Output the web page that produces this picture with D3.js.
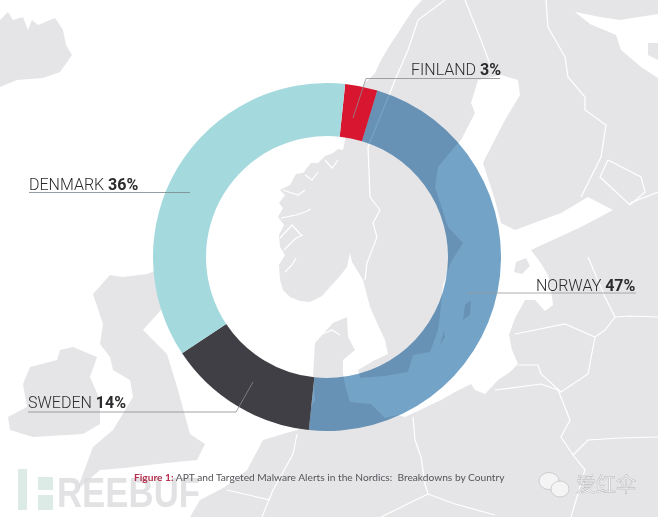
<!DOCTYPE html>
<html>
<head>
<meta charset="utf-8">
<script src="https://cdn.jsdelivr.net/npm/d3@7"></script>
<style>
html, body { margin: 0; padding: 0; background: #fff; }
svg { display: block; }
</style>
</head>
<body>
<div id="chart"></div>
<script>
// chart data
var countries = ["FINLAND", "NORWAY", "SWEDEN", "DENMARK"];
var alertShares = [3, 47, 14, 36];
var sliceColors = ["#d8162f", "#74a3c8", "#3f3f45", "#a4d9de"];
var captionLead = "Figure 1:";
var captionText = " APT and Targeted Malware Alerts in the Nordics:  Breakdowns by Country";

// background map outlines, in picture pixels
var mainland = [[422,0],[413,10],[405,22],[398,33],[390,45],[381,60],[375,73],[365,83],[350,120],[345,140],[343,150],[338,149],[333,153],[325,156],[318,163],[311,163],[303,173],[296,174],[290,185],[280,190],[285,195],[279,203],[283,208],[278,217],[284,225],[279,235],[280,247],[285,255],[279,265],[280,280],[283,290],[290,297],[300,301],[310,302],[322,296],[330,287],[340,276],[347,267],[350,253],[352,262],[357,270],[363,280],[370,307],[378,325],[385,340],[388,354],[375,360],[358,370],[360,378],[385,376],[408,372],[413,355],[430,352],[438,330],[440,315],[443,285],[451,262],[463,243],[448,227],[435,187],[438,167],[458,143],[461,140],[475,113],[471,103],[478,80],[501,75],[518,80],[520,95],[505,120],[491,147],[483,163],[495,200],[501,223],[515,230],[561,213],[588,197],[613,210],[581,227],[531,250],[540,262],[548,275],[551,290],[553,305],[545,311],[535,300],[525,300],[515,318],[509,335],[512,350],[518,364],[510,372],[498,380],[485,394],[475,390],[471,384],[455,392],[441,400],[405,417],[398,415],[385,418],[371,404],[350,402],[345,385],[343,373],[343,360],[355,350],[348,337],[347,317],[333,323],[315,343],[313,377],[315,400],[298,430],[290,432],[263,440],[247,470],[225,487],[200,500],[190,517],[658,517],[658,0]];
var iceland = [[0,20],[8,12],[13,20],[23,17],[28,30],[32,20],[38,25],[55,18],[63,30],[66,45],[72,55],[60,72],[43,78],[17,80],[0,87]];
var britain = [[93,294],[110,275],[123,277],[147,274],[157,270],[170,300],[143,330],[167,354],[178,390],[190,434],[205,444],[197,460],[157,464],[125,468],[100,470],[77,490],[93,447],[113,430],[133,397],[130,380],[113,370],[110,357],[100,344],[103,324]];
var ireland = [[8,417],[27,407],[23,384],[30,367],[57,360],[60,350],[73,347],[97,357],[90,377],[100,400],[100,424],[83,434],[33,437],[10,430]];
var balticIslands = [[[516,262],[526,258],[530,266],[522,274],[514,272]], [[463,320],[465,305],[471,300],[470,315]], [[440,345],[444,330],[445,337]]];
var whiteSea = [[575,12],[600,17],[620,20],[658,14],[658,78],[641,67],[621,50],[616,35],[590,24]];
var kola = [[648,43],[658,43],[658,60],[648,55]];
var borders = [
  [[368,147],[370,197],[380,210],[373,223],[377,237],[367,263],[365,280]],
  [[368,147],[395,80],[408,50],[418,20],[445,0]],
  [[465,0],[481,40],[491,67],[497,75]],
  [[546,0],[548,27],[565,57],[568,77],[585,97],[585,110],[606,125],[601,157],[581,197]],
  [[608,160],[641,177],[645,192],[630,205],[600,177],[608,160]],
  [[630,203],[658,192]],
  [[588,257],[605,297],[615,317],[605,330],[595,337],[565,324],[515,334]],
  [[615,317],[630,316],[658,317]],
  [[595,337],[588,374],[561,392],[541,374],[538,365],[518,365]],
  [[495,390],[541,384],[558,390],[570,420],[561,437],[573,455],[585,470],[571,517]],
  [[573,455],[588,440],[620,438],[658,437]],
  [[413,417],[415,440],[421,457],[425,484],[428,494],[381,517]],
  [[428,494],[455,504],[495,515]],
  [[297,434],[293,454],[273,490],[262,517]],
  [[227,490],[270,500]]
];
var fjords = [
  [[281,218],[296,215],[305,212],[311,209]],
  [[280,238],[292,225],[302,236]],
  [[284,250],[296,238],[303,235]],
  [[283,190],[298,195],[305,190]],
  [[285,272],[292,265],[296,258]],
  [[305,175],[312,180],[318,172]],
  [[325,160],[332,168],[338,160]],
  [[320,335],[332,330],[340,335]]
];

var svgWidth = 658;
var svgHeight = 517;
var centerX = 327;
var centerY = 257;
var outerRadius = 174;
var innerRadius = 121;
var startDeg = 6;
var landColor = "#e5e5e7";

var svg = d3.select("#chart").append("svg")
    .attr("width", svgWidth)
    .attr("height", svgHeight);

var outline = d3.line().curve(d3.curveLinearClosed);
var map = svg.append("g");

map.append("path").attr("d", outline(mainland)).attr("fill", landColor);
[iceland, britain, ireland].concat(balticIslands).forEach(function (shape) {
    map.append("path").attr("d", outline(shape)).attr("fill", landColor);
});
map.append("path").attr("d", outline(whiteSea)).attr("fill", "#fff");
map.append("path").attr("d", outline(kola)).attr("fill", landColor);

var openLine = d3.line();
map.selectAll("path.border")
    .data(borders.concat(fjords))
    .enter()
    .append("path")
    .attr("class", "border")
    .attr("d", d => openLine(d))
    .attr("fill", "none")
    .attr("stroke", "#fff")
    .attr("stroke-width", 1.2);

// watermark behind the chart
var mark = svg.append("g");
mark.append("rect").attr("x", 18).attr("y", 469).attr("width", 9).attr("height", 41).attr("fill", "#dcebe6");
mark.append("rect").attr("x", 38).attr("y", 477).attr("width", 15).attr("height", 13).attr("fill", "#dcebe6");
mark.append("rect").attr("x", 38).attr("y", 495).attr("width", 15).attr("height", 15).attr("fill", "#dcebe6");
mark.append("text")
    .attr("x", 57).attr("y", 507)
    .attr("font-family", "Liberation Sans")
    .attr("font-weight", 700)
    .attr("font-size", 42)
    .attr("textLength", 143)
    .attr("lengthAdjust", "spacingAndGlyphs")
    .attr("fill", "#dcdcde")
    .attr("opacity", 0.8)
    .text("REEBUF");

// donut
var pie = d3.pie()
    .sort(null)
    .startAngle(startDeg * Math.PI / 180)
    .endAngle((startDeg + 360) * Math.PI / 180);
var arc = d3.arc().innerRadius(innerRadius).outerRadius(outerRadius);

svg.append("g")
    .attr("transform", `translate(${centerX}, ${centerY})`)
    .selectAll("path")
    .data(pie(alertShares))
    .enter()
    .append("path")
    .attr("d", arc)
    .attr("fill", (d, i) => sliceColors[i])
    .style("mix-blend-mode", (d, i) => i == 1 ? "multiply" : "normal");

// leader lines
var leaders = [
    {pts: [[500,78.5],[366,78.5],[353,118]], color: "#8c8c8f"},
    {pts: [[636,293],[468,293]], color: "#9a9a9d"},
    {pts: [[28,412],[236,412],[253,382]], color: "#8c8c8f"},
    {pts: [[29,192.5],[190,192.5]], color: "#77868a"}
];
svg.append("g").selectAll("path")
    .data(leaders)
    .enter()
    .append("path")
    .attr("d", d => openLine(d.pts))
    .attr("fill", "none")
    .attr("stroke", d => d.color)
    .attr("stroke-width", 0.8);

// labels
var labelPlaces = [[411,75],[536,291],[28,408],[29,190]];
var labels = svg.append("g").selectAll("text")
    .data(countries)
    .enter()
    .append("text")
    .attr("x", (d, i) => labelPlaces[i][0])
    .attr("y", (d, i) => labelPlaces[i][1])
    .attr("font-family", "Roboto")
    .attr("font-size", 16)
    .attr("font-weight", 300)
    .attr("fill", "#2b2b2e");
labels.append("tspan").text(d => d + " ");
labels.append("tspan")
    .attr("font-weight", 700)
    .text((d, i) => alertShares[i] + "%");

// caption
var caption = svg.append("text")
    .attr("x", 134).attr("y", 481)
    .attr("font-family", "Lato")
    .attr("font-size", 10.2)
    .attr("fill", "#55555a")
    .style("white-space", "pre");
caption.append("tspan").attr("font-weight", 700).attr("fill", "#b5304c").text(captionLead);
caption.append("tspan").text(captionText);

// wechat watermark
var wechat = svg.append("g").attr("fill", "#f4f4f5").attr("stroke", "#b8b8bb").attr("stroke-width", 0.6);
wechat.append("ellipse").attr("cx", 549).attr("cy", 481).attr("rx", 10).attr("ry", 8.5);
wechat.append("ellipse").attr("cx", 560).attr("cy", 489).attr("rx", 9).attr("ry", 8);
svg.append("text")
    .attr("x", 576).attr("y", 492)
    .attr("font-family", "Noto Sans CJK SC")
    .attr("font-size", 20)
    .attr("fill", "#f4f4f5")
    .attr("stroke", "#b0b0b3")
    .attr("stroke-width", 0.4)
    .text("爱红伞");
</script>
</body>
</html>
